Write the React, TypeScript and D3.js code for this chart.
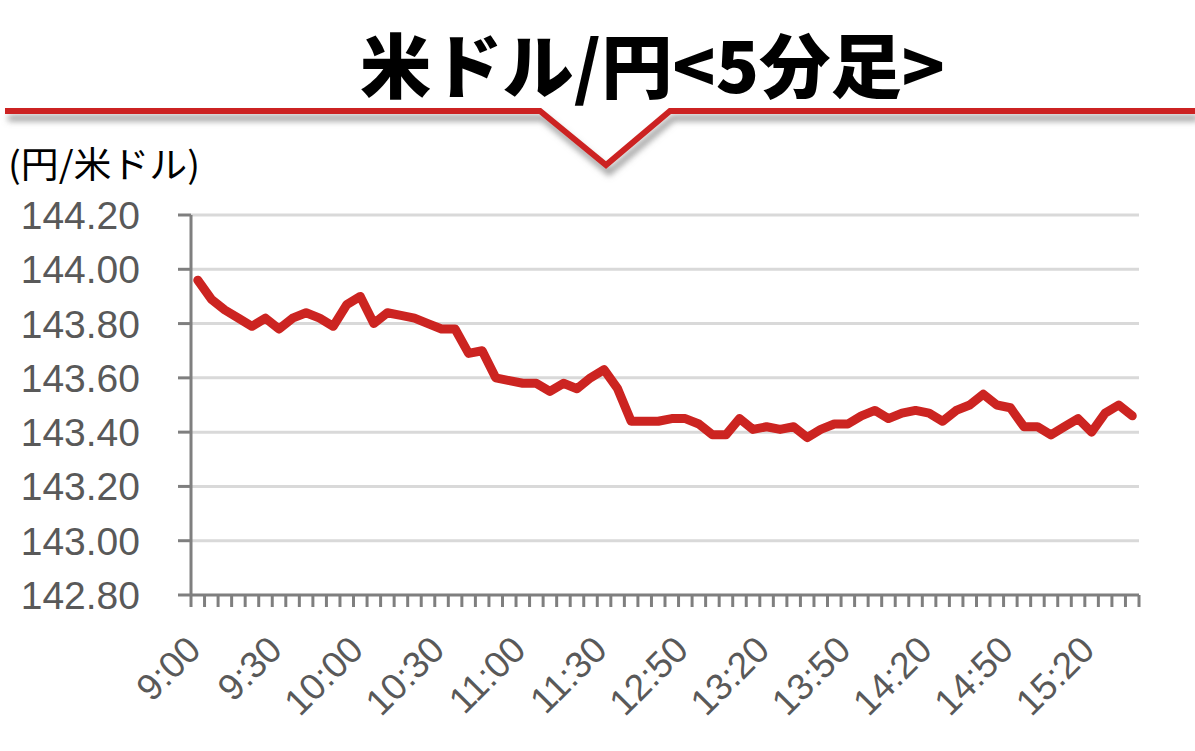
import React, { useEffect, useRef } from 'react';
import * as d3 from 'd3';

// 5-minute bars, USD/JPY (morning session + afternoon session)
const times: string[] = [
  '9:00', '9:05', '9:10', '9:15', '9:20', '9:25', '9:30', '9:35', '9:40', '9:45',
  '9:50', '9:55', '10:00', '10:05', '10:10', '10:15', '10:20', '10:25', '10:30', '10:35',
  '10:40', '10:45', '10:50', '10:55', '11:00', '11:05', '11:10', '11:15', '11:20', '11:25',
  '11:30', '12:25', '12:30', '12:35', '12:40', '12:45', '12:50', '12:55', '13:00', '13:05',
  '13:10', '13:15', '13:20', '13:25', '13:30', '13:35', '13:40', '13:45', '13:50', '13:55',
  '14:00', '14:05', '14:10', '14:15', '14:20', '14:25', '14:30', '14:35', '14:40', '14:45',
  '14:50', '14:55', '15:00', '15:05', '15:10', '15:15', '15:20', '15:25', '15:30', '15:35',
];

const rates: number[] = [
  143.96, 143.89, 143.85, 143.82, 143.79, 143.82, 143.78, 143.82, 143.84, 143.82,
  143.79, 143.87, 143.90, 143.80, 143.84, 143.83, 143.82, 143.80, 143.78, 143.78,
  143.69, 143.70, 143.60, 143.59, 143.58, 143.58, 143.55, 143.58, 143.56, 143.60,
  143.63, 143.56, 143.44, 143.44, 143.44, 143.45, 143.45, 143.43, 143.39, 143.39,
  143.45, 143.41, 143.42, 143.41, 143.42, 143.38, 143.41, 143.43, 143.43, 143.46,
  143.48, 143.45, 143.47, 143.48, 143.47, 143.44, 143.48, 143.50, 143.54, 143.50,
  143.49, 143.42, 143.42, 143.39, 143.42, 143.45, 143.40, 143.47, 143.50, 143.46,
];

const yTicks: number[] = [142.8, 143.0, 143.2, 143.4, 143.6, 143.8, 144.0, 144.2];
const labelEvery = 6;

const title = '米ドル/円<5分足>';
const unitLabel = '(円/米ドル)';

const W = 1195;
const H = 751;
const red = '#cc2421';
const grey = '#595959';
const axisGrey = '#7f7f7f';
const numFont = '"Liberation Sans", Arial, "Noto Sans CJK JP", sans-serif';
const jpFont = '"Noto Sans CJK JP", "Noto Sans", sans-serif';

export default function App() {
  const svgRef = useRef<SVGSVGElement>(null);

  useEffect(() => {
    if (!svgRef.current) return;
    const svg = d3.select(svgRef.current);
    svg.selectAll('*').remove();

    const plot = { left: 191, right: 1139, top: 215, bottom: 595 };

    const x = d3.scaleBand<string>().domain(times).range([plot.left, plot.right]).padding(0);
    const y = d3.scaleLinear().domain([142.8, 144.2]).range([plot.bottom, plot.top]);
    const cx = (t: string) => (x(t) ?? 0) + x.bandwidth() / 2;

    const defs = svg.append('defs');
    defs.append('filter')
      .attr('id', 'shadow')
      .attr('x', '-5%').attr('y', '-50%').attr('width', '110%').attr('height', '300%')
      .append('feDropShadow')
      .attr('dx', 3).attr('dy', 7).attr('stdDeviation', 3)
      .attr('flood-color', '#7a7a7a').attr('flood-opacity', 0.75);

    // Title
    svg.append('text')
      .attr('x', 360).attr('y', 93)
      .attr('textLength', 585)
      .attr('lengthAdjust', 'spacingAndGlyphs')
      .attr('font-family', jpFont)
      .attr('font-weight', 900)
      .attr('font-size', 70)
      .attr('fill', '#000')
      .text(title);

    // Red header rule with V notch
    const rule: [number, number][] = [[5, 111], [540, 111], [606, 165], [670, 111], [1195, 111]];
    svg.append('path')
      .attr('d', d3.line()(rule))
      .attr('fill', 'none')
      .attr('stroke', red)
      .attr('stroke-width', 6)
      .attr('filter', 'url(#shadow)');

    // Unit label
    svg.append('text')
      .attr('x', 8).attr('y', 178)
      .attr('textLength', 192)
      .attr('lengthAdjust', 'spacingAndGlyphs')
      .attr('font-family', jpFont)
      .attr('font-size', 36)
      .attr('fill', '#000')
      .text(unitLabel);

    // Gridlines
    svg.append('g')
      .selectAll('line')
      .data(yTicks.slice(1))
      .join('line')
      .attr('x1', plot.left).attr('x2', plot.right)
      .attr('y1', d => y(d)).attr('y2', d => y(d))
      .attr('stroke', '#d9d9d9')
      .attr('stroke-width', 3);

    // Y axis
    const yAxis = svg.append('g');
    yAxis.append('line')
      .attr('x1', plot.left).attr('x2', plot.left)
      .attr('y1', plot.top).attr('y2', plot.bottom + 1)
      .attr('stroke', axisGrey).attr('stroke-width', 3);
    yAxis.selectAll('line.tick')
      .data(yTicks)
      .join('line')
      .attr('class', 'tick')
      .attr('x1', plot.left - 13).attr('x2', plot.left)
      .attr('y1', d => y(d)).attr('y2', d => y(d))
      .attr('stroke', axisGrey).attr('stroke-width', 3);
    yAxis.selectAll('text')
      .data(yTicks)
      .join('text')
      .attr('x', 140)
      .attr('y', d => y(d))
      .attr('dy', '0.36em')
      .attr('text-anchor', 'end')
      .attr('font-family', numFont)
      .attr('font-size', 39)
      .attr('fill', grey)
      .text(d => d3.format('.2f')(d));

    // X axis
    const xAxis = svg.append('g');
    xAxis.append('line')
      .attr('x1', plot.left - 1).attr('x2', plot.right)
      .attr('y1', plot.bottom).attr('y2', plot.bottom)
      .attr('stroke', axisGrey).attr('stroke-width', 3);
    const bounds = times.map(t => x(t) ?? 0).concat([plot.right]);
    xAxis.selectAll('line.tick')
      .data(bounds)
      .join('line')
      .attr('class', 'tick')
      .attr('x1', d => d).attr('x2', d => d)
      .attr('y1', plot.bottom).attr('y2', plot.bottom + 12)
      .attr('stroke', axisGrey).attr('stroke-width', 3);
    xAxis.selectAll('text')
      .data(times.filter((_, i) => i % labelEvery === 0))
      .join('text')
      .attr('transform', t => `translate(${cx(t) + 5},652) rotate(-45)`)
      .attr('text-anchor', 'end')
      .attr('font-family', numFont)
      .attr('font-size', 37)
      .attr('fill', grey)
      .text(t => t);

    // Rate line
    const line = d3.line<number>()
      .x((_, i) => cx(times[i]))
      .y(d => y(d));
    svg.append('path')
      .datum(rates)
      .attr('d', line)
      .attr('fill', 'none')
      .attr('stroke', red)
      .attr('stroke-width', 9)
      .attr('stroke-linejoin', 'round')
      .attr('stroke-linecap', 'round');
  }, []);

  return (
    <svg
      ref={svgRef}
      width={W}
      height={H}
      viewBox={`0 0 ${W} ${H}`}
      style={{ position: 'absolute', left: 0, top: 0, background: '#fff' }}
    />
  );
}
